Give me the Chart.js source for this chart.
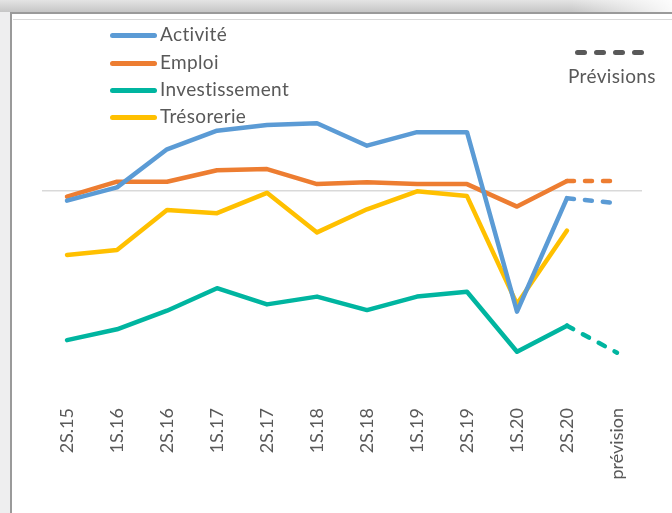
<!DOCTYPE html>
<html>
<head>
<meta charset="utf-8">
<script src="https://cdn.jsdelivr.net/npm/chart.js@4/dist/chart.umd.min.js"></script>
<style>
  html, body { margin:0; padding:0; }
  body { width:672px; height:513px; position:relative; overflow:hidden; background:#ffffff; font-family:Lato, sans-serif; }
  #topband { position:absolute; left:0; top:0; width:672px; height:12px;
    background: linear-gradient(to right, rgba(255,255,255,0) 85%, rgba(255,255,255,0.9) 100%), linear-gradient(to bottom, #e4e4e4, #c6c6c6); }
  #leftband { position:absolute; left:0; top:12px; width:10px; height:501px; background:#eeeeef; }
  #frame { position:absolute; left:10px; top:12px; width:662px; height:501px; border-left:2px solid #9a9a9a; border-top:2px solid #9a9a9a; box-sizing:border-box; }
  #innerline { position:absolute; left:13px; top:19px; width:659px; height:1px; background:#d9d9d9; }
  #wrap { position:absolute; left:0; top:0; width:672px; height:513px; }
  .lg-line { position:absolute; height:5px; border-radius:2.5px; }
  .lg-text { position:absolute; font-size:19px; letter-spacing:0.35px; line-height:22px; color:#595959; white-space:nowrap; }
  .dash { position:absolute; width:12px; height:5px; border-radius:2.5px; background:#595959; }
</style>
</head>
<body>
<div id="topband"></div>
<div id="leftband"></div>
<div id="frame"></div>
<div id="innerline"></div>
<div id="wrap"><canvas id="c" width="672" height="513"></canvas></div>
<div id="legend"></div>
<div class="dash" style="left:575px; top:50px;"></div>
<div class="dash" style="left:594px; top:50px;"></div>
<div class="dash" style="left:613px; top:50px;"></div>
<div class="dash" style="left:632px; top:50px;"></div>
<div class="lg-text" style="left:568px; top:65px;">Prévisions</div>
<script>
const categories = ['2S.15','1S.16','2S.16','1S.17','2S.17','1S.18','2S.18','1S.19','2S.19','1S.20','2S.20','prévision'];
const activite       = [-3.2, 1.2, 13.9, 20.1, 22.0, 22.6, 15.1, 19.6, 19.6, -40.2, -2.4, -4.1];
const emploi         = [-1.9, 3.1, 3.1, 6.9, 7.3, 2.3, 2.9, 2.3, 2.3, -5.2, 3.3, 3.3];
const investissement = [-49.7, -46.1, -39.9, -32.4, -37.8, -35.2, -39.7, -35.2, -33.6, -53.6, -44.9, -53.9];
const tresorerie     = [-21.3, -19.7, -6.3, -7.4, -0.6, -13.8, -6.1, -0.1, -1.7, -37.7, -13.2, null];
const seriesNames = ['Activité','Emploi','Investissement','Trésorerie'];
const seriesColors = ['#5B9BD5','#ED7D31','#00B5A0','#FFC000'];
const seriesData = [activite, emploi, investissement, tresorerie];

// HTML legend
const legend = document.getElementById('legend');
const legendTops = [35, 63, 90, 117];
seriesNames.forEach((n, i) => {
  const l = document.createElement('div');
  l.className = 'lg-line';
  l.style.left = '110px'; l.style.width = '47px';
  l.style.top = (legendTops[i] - 2.5) + 'px';
  l.style.background = seriesColors[i];
  legend.appendChild(l);
  const t = document.createElement('div');
  t.className = 'lg-text';
  t.style.left = '160px';
  t.style.top = (legendTops[i] - 12) + 'px';
  t.textContent = n;
  legend.appendChild(t);
});

const lastIdx = categories.length - 1;
const datasets = seriesData.map((d, i) => ({
  label: seriesNames[i],
  data: d,
  borderColor: seriesColors[i],
  backgroundColor: seriesColors[i],
  borderWidth: 4.5,
  pointRadius: 0,
  pointHoverRadius: 0,
  tension: 0,
  fill: false,
  borderJoinStyle: 'round',
  borderCapStyle: 'round',
  segment: {
    borderDash: ctx => ctx.p1DataIndex === lastIdx ? [7, 11] : undefined
  }
}));

new Chart(document.getElementById('c'), {
  type: 'line',
  data: { labels: categories, datasets },
  options: {
    responsive: false,
    animation: false,
    events: [],
    layout: { padding: { left: 42, right: 30, top: 71, bottom: 0 } },
    plugins: { legend: { display: false }, tooltip: { enabled: false } },
    scales: {
      x: {
        offset: true,
        grid: { display: false, drawTicks: false },
        border: { display: false },
        ticks: {
          autoSkip: false,
          minRotation: 90,
          maxRotation: 90,
          padding: 7,
          color: '#595959',
          font: { family: 'Lato', size: 18 }
        },
        afterFit: s => { s.height = 112; }
      },
      y: {
        min: -70,
        max: 40,
        grid: {
          drawTicks: false,
          lineWidth: ctx => (ctx.tick && ctx.tick.value === 0) ? 1.5 : 0,
          color: ctx => (ctx.tick && ctx.tick.value === 0) ? '#d9d9d9' : 'rgba(0,0,0,0)'
        },
        border: { display: false },
        ticks: { display: false, stepSize: 10 },
        afterFit: s => { s.width = 0; }
      }
    }
  }
});
</script>
</body>
</html>
